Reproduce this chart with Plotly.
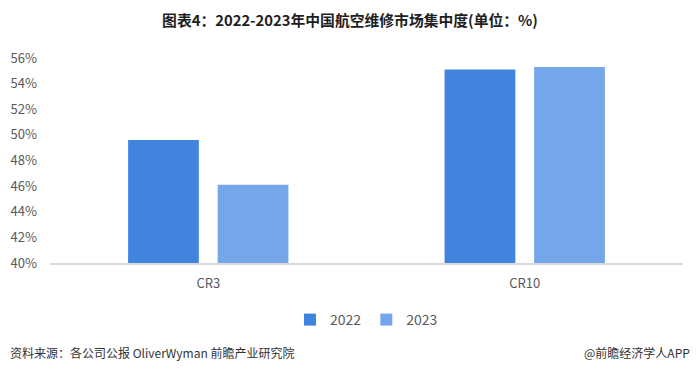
import plotly.graph_objects as go

categories = ["CR3", "CR10"]
series_names = ["2022", "2023"]
values_2022 = [49.6, 55.1]
values_2023 = [46.1, 55.3]
y_ticks = [40, 42, 44, 46, 48, 50, 52, 54, 56]
y_tick_labels = [f"{v}%" for v in y_ticks]

colors = ["#4184E0", "#75A6EA"]
font_family = "Noto Sans CJK SC, Noto Sans, sans-serif"

fig = go.Figure()
for name, vals, c in zip(series_names, [values_2022, values_2023], colors):
    fig.add_trace(go.Bar(
        x=categories, y=vals, name=name,
        marker=dict(color=c, line=dict(width=0)),
        hovertemplate="%{x} " + name + ": %{y}%<extra></extra>",
    ))

fig.update_layout(
    width=700, height=370,
    margin=dict(l=50, r=17, t=58, b=107),
    paper_bgcolor="white", plot_bgcolor="white",
    barmode="group", bargap=0.434, bargroupgap=0.21,
    font=dict(family=font_family, color="#595959", size=13),
    title=dict(
        text="<b>图表4：2022-2023年中国航空维修市场集中度(单位：%)</b>",
        x=0.5, xanchor="center", y=1 - 21/370, yref="container", yanchor="middle",
        font=dict(size=14.8, color="#1E1E1E", family=font_family),
    ),
    xaxis=dict(
        showgrid=False, showline=True, linecolor="#D9D9D9", linewidth=1.5,
        ticks="", tickfont=dict(size=13, color="#595959"), ticklabelstandoff=8,
    ),
    yaxis=dict(
        range=[40, 56], tickvals=y_ticks, ticktext=y_tick_labels,
        showgrid=False, zeroline=False, showline=False, ticks="",
        tickfont=dict(size=13, color="#595959"), ticklabelstandoff=12,
    ),
    legend=dict(
        orientation="h", x=0.5, xanchor="center", y=-57/205, yanchor="middle",
        font=dict(size=14, color="#595959"), itemwidth=30,
        traceorder="normal",
    ),
    annotations=[
        dict(text="资料来源：各公司公报 OliverWyman 前瞻产业研究院",
             xref="paper", yref="paper", x=-42/633, y=-89/205,
             xanchor="left", yanchor="middle", showarrow=False,
             font=dict(size=12, color="#333333", family=font_family)),
        dict(text="@前瞻经济学人APP",
             xref="paper", yref="paper", x=1.0 + 9/633, y=-89/205,
             xanchor="right", yanchor="middle", showarrow=False,
             font=dict(size=12, color="#333333", family=font_family)),
    ],
)

fig.write_html("out.html", config={"displayModeBar": False},
               post_script="document.body.style.margin='0';")
